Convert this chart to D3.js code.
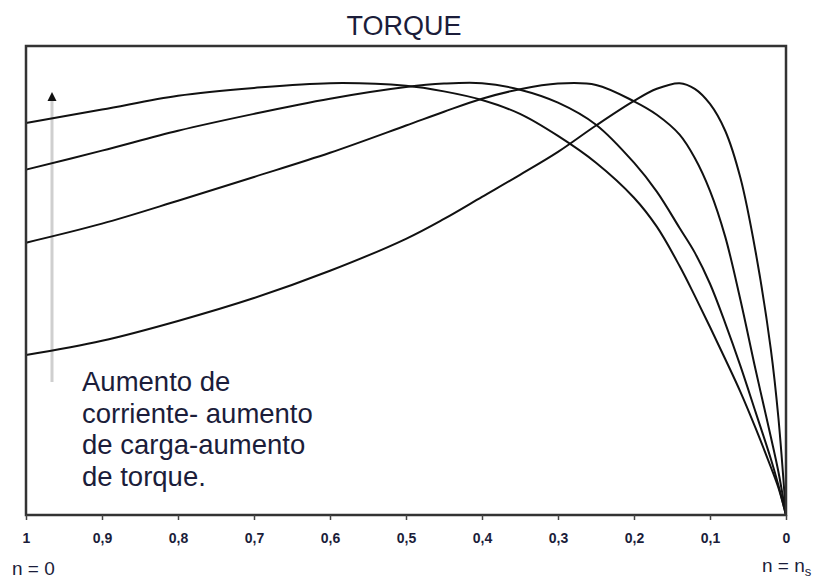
<!DOCTYPE html>
<html>
<head>
<meta charset="utf-8">
<script src="https://cdn.jsdelivr.net/npm/d3@7"></script>
<style>
  html, body { margin: 0; padding: 0; background: #fff; }
  svg { display: block; }
</style>
</head>
<body>
<svg id="chart" width="818" height="580"></svg>
<script>
// ---- data (slip from n = 0 (s = 1) to n = ns (s = 0)) ----
const slip = [1, 0.9, 0.8, 0.7, 0.6, 0.5, 0.45, 0.4, 0.35, 0.3, 0.25, 0.2, 0.17, 0.14, 0.12, 0.1, 0.08, 0.06, 0.04, 0.02, 0.01, 0];
const torqueA = [90.7, 93.8, 97.0, 98.8, 99.9, 99.3, 98.0, 96.0, 92.8, 87.7, 81.5, 73.4, 66.7, 57.6, 50.7, 43.5, 36.1, 28.5, 20.1, 11.1, 6.3, 0];
const torqueB = [79.9, 84.3, 88.9, 92.8, 96.3, 99.0, 99.8, 99.9, 98.4, 95.4, 90.3, 81.5, 74.8, 66.4, 60.7, 53.5, 44.4, 34.5, 23.8, 13.0, 6.9, 0];
const torqueC = [63.0, 67.4, 72.7, 78.2, 83.8, 90.1, 93.3, 96.3, 98.5, 99.8, 99.5, 95.7, 92.6, 88.0, 82.6, 75.0, 64.4, 49.8, 33.6, 18.1, 10.0, 0];
const torqueD = [37.0, 40.3, 44.9, 50.2, 56.5, 63.9, 68.5, 73.6, 78.7, 84.0, 90.1, 95.8, 98.6, 99.9, 98.6, 95.1, 88.9, 78.0, 60.9, 38.4, 22.5, 0];
const seriesList = [torqueA, torqueB, torqueC, torqueD];
const tickValues = [1, 0.9, 0.8, 0.7, 0.6, 0.5, 0.4, 0.3, 0.2, 0.1, 0];
const tickLabels = ["1", "0,9", "0,8", "0,7", "0,6", "0,5", "0,4", "0,3", "0,2", "0,1", "0"];
const titleText = "TORQUE";
const noteLines = ["Aumento de", "corriente- aumento", "de carga-aumento", "de torque."];
const torqueMax = 108.5;

// ---- layout ----
const svg = d3.select("#chart");
const plotL = 26, plotR = 786, plotT = 46, plotB = 515;
const x = d3.scaleLinear().domain([1, 0]).range([plotL, plotR]);
const y = d3.scaleLinear().domain([0, torqueMax]).range([plotB, plotT]);
const font = "Liberation Sans, Arial, Helvetica, sans-serif";
const textColor = "#1b1d3a";

// title
svg.append("text")
  .attr("x", 404).attr("y", 35)
  .attr("text-anchor", "middle")
  .attr("font-family", font).attr("font-size", 27)
  .attr("fill", textColor)
  .text(titleText);

// gray arrow
svg.append("line")
  .attr("x1", 52).attr("x2", 52).attr("y1", 382).attr("y2", 100)
  .attr("stroke", "#cfcfcf").attr("stroke-width", 3);
svg.append("path")
  .attr("d", "M52,92 L56.5,101 L47.5,101 Z")
  .attr("fill", "#111");

// note text
const note = svg.append("text")
  .attr("font-family", font).attr("font-size", 27.5)
  .attr("fill", textColor);
noteLines.forEach((t, i) => {
  note.append("tspan").attr("x", 82).attr("y", 391 + i * 31.7).text(t);
});

// curves
const line = d3.line()
  .x((d, i) => x(slip[i]))
  .y(d => y(d))
  .curve(d3.curveCatmullRom.alpha(0.5));
svg.append("g").selectAll("path")
  .data(seriesList)
  .join("path")
  .attr("d", d => line(d))
  .attr("fill", "none")
  .attr("stroke", "#111")
  .attr("stroke-width", 2);

// frame
svg.append("rect")
  .attr("x", plotL).attr("y", plotT)
  .attr("width", plotR - plotL).attr("height", plotB - plotT)
  .attr("fill", "none")
  .attr("stroke", "#333").attr("stroke-width", 2.5);

// axis
const axis = svg.append("g")
  .attr("transform", `translate(0,${plotB})`)
  .call(d3.axisBottom(x).tickValues(tickValues).tickFormat((d, i) => tickLabels[i]).tickSize(5));
axis.select(".domain").remove();
axis.selectAll(".tick line").attr("stroke", "#444").attr("stroke-width", 1.5);
axis.selectAll(".tick text")
  .attr("y", 28).attr("dy", null)
  .attr("font-family", font).attr("font-size", 14).attr("font-weight", "bold")
  .attr("fill", textColor);

// n labels
svg.append("text")
  .attr("x", 12).attr("y", 575)
  .attr("font-family", font).attr("font-size", 19)
  .attr("fill", textColor)
  .text("n = 0");
const ns = svg.append("text")
  .attr("x", 762).attr("y", 572)
  .attr("font-family", font).attr("font-size", 19)
  .attr("fill", textColor);
ns.append("tspan").text("n = n");
ns.append("tspan").attr("font-size", 13).attr("dy", 3.5).text("s");
</script>
</body>
</html>
